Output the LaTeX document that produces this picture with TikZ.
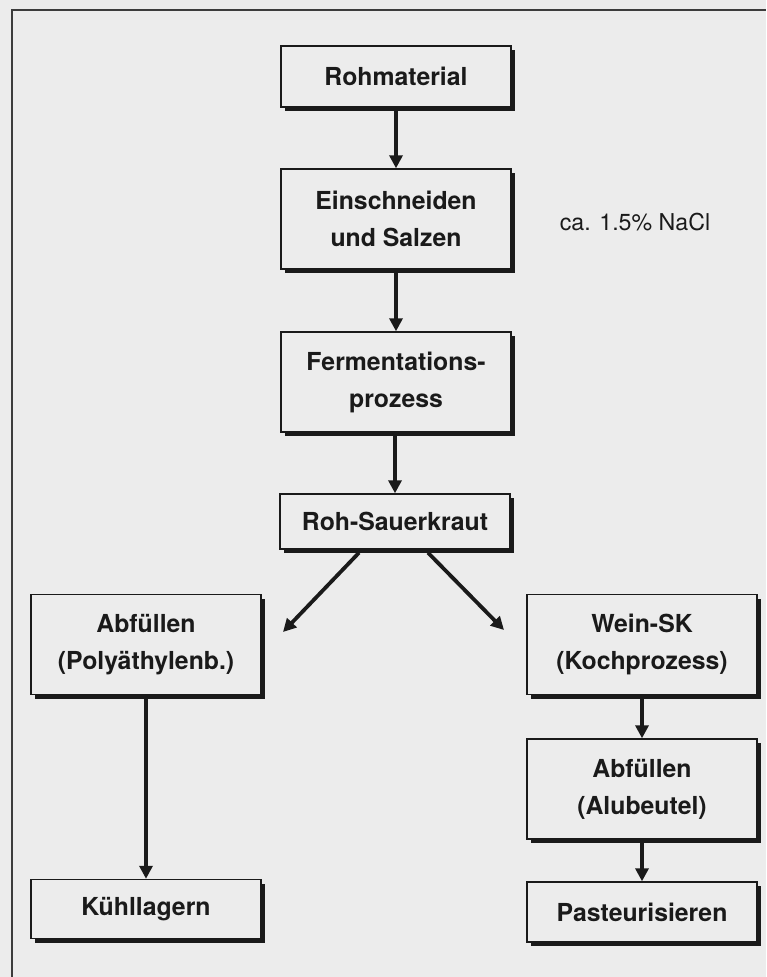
\documentclass[tikz,border=0pt]{standalone}
\usepackage{fontspec}
\setmainfont{TeX Gyre Heros}
\usepackage{xcolor}
\usepackage{tikz}
\usetikzlibrary{arrows.meta}
\usetikzlibrary{shadows}
\usetikzlibrary{calc}
\definecolor{papier}{HTML}{ECECEC}
\definecolor{tinte}{HTML}{1A1A1A}

\begin{document}
\begin{tikzpicture}[x=0.5pt, y=-0.5pt,
    kasten/.style={draw=tinte, line width=0.7pt, fill=papier, align=center,
        minimum width=115pt, inner sep=2pt, text=tinte,
        font=\fontsize{12.4}{18.5}\selectfont\bfseries,
        drop shadow={shadow xshift=2.2pt, shadow yshift=-2.2pt, fill=tinte, opacity=1}},
    zweizeilig/.style={kasten, minimum height=50pt},
    einzeilig/.style={kasten, minimum height=29.5pt},
    pfeil/.style={draw=tinte, line width=1.9pt, -{Triangle[length=6.5pt, width=6.5pt]}}]

            \fill[papier] (0, 0) rectangle (766, 977);
            \useasboundingbox (0, 0) rectangle (766, 977);
            \draw[tinte!85, line width=0.75pt] (12, 977) -- (12, 10) -- (766, 10);

            \node[einzeilig, minimum height=30.5pt] (rohmat) at (396, 76.5) {Rohmaterial};
            \node[zweizeilig] (einschn) at (396, 219) {Einschneiden\\und Salzen};
            \node[zweizeilig] (ferment) at (396, 382) {Fermentations-\\prozess};
            \node[einzeilig, minimum height=27.5pt] (sauer) at (395, 521.5) {Roh-Sauerkraut};
            \node[zweizeilig] (abfpoly) at (146, 644.5) {Abfüllen\\(Polyäthylenb.)};
            \node[zweizeilig] (weinsk) at (642, 644.5) {Wein-SK\\(Kochprozess)};
            \node[einzeilig] (kuehl) at (146, 909) {Kühllagern};
            \node[zweizeilig] (abfalu) at (642, 789) {Abfüllen\\(Alubeutel)};
            \node[einzeilig, minimum height=30pt] (pasteur) at (642, 912) {Pasteurisieren};

            \node[text=tinte, font=\fontsize{11.6}{14}\selectfont] (nacl) at (635, 222) {ca. 1.5\% NaCl};

            \coordinate (linksab) at ($(sauer.south)+(-36, 3)$);
            \coordinate (rechtsab) at ($(sauer.south)+(33, 3)$);
            \coordinate (linksziel) at (283, 632);
            \coordinate (rechtsziel) at (504, 630);

            \draw[pfeil] (rohmat) -- (einschn);
            \draw[pfeil] (einschn) -- (ferment);
            \draw[pfeil] (ferment.south -| sauer) -- (sauer);
            \draw[pfeil] (linksab) -- (linksziel);
            \draw[pfeil] (rechtsab) -- (rechtsziel);
            \draw[pfeil] (abfpoly) -- (kuehl);
            \draw[pfeil] (weinsk) -- (abfalu);
            \draw[pfeil] (abfalu) -- (pasteur);

        \end{tikzpicture}
\end{document}
